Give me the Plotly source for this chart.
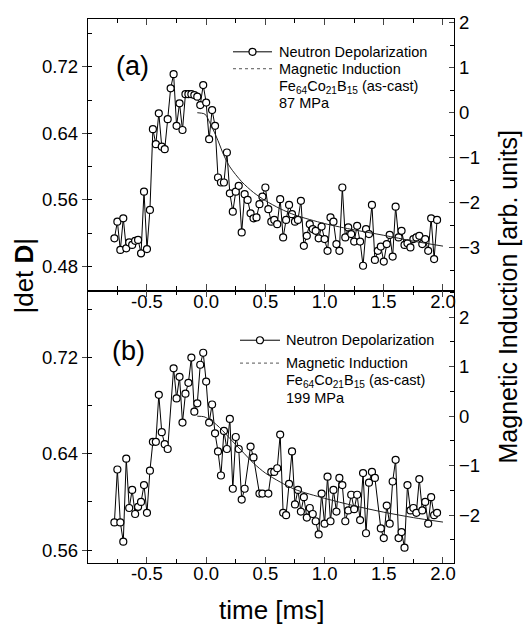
import plotly.graph_objects as go

FONT = "Liberation Sans, Arial, sans-serif"

# panel (a): 87 MPa
time_a = [-0.775, -0.75, -0.725, -0.7, -0.675, -0.65, -0.625, -0.6, -0.575, -0.55,
          -0.525, -0.5, -0.475, -0.45, -0.425, -0.4, -0.375, -0.35, -0.325, -0.3,
          -0.275, -0.25, -0.225, -0.2, -0.175, -0.15, -0.125, -0.1, -0.075, -0.05,
          -0.025, 0.0, 0.025, 0.05, 0.075, 0.1, 0.125, 0.15, 0.175, 0.2,
          0.225, 0.25, 0.275, 0.3, 0.325, 0.35, 0.375, 0.4, 0.425, 0.45,
          0.475, 0.5, 0.525, 0.55, 0.575, 0.6, 0.625, 0.65, 0.675, 0.7,
          0.725, 0.75, 0.775, 0.8, 0.825, 0.85, 0.875, 0.9, 0.925, 0.95,
          0.975, 1.0, 1.025, 1.05, 1.075, 1.1, 1.125, 1.15, 1.175, 1.2,
          1.225, 1.25, 1.275, 1.3, 1.325, 1.35, 1.375, 1.4, 1.425, 1.45,
          1.475, 1.5, 1.525, 1.55, 1.575, 1.6, 1.625, 1.65, 1.675, 1.7,
          1.725, 1.75, 1.775, 1.8, 1.825, 1.85, 1.875, 1.9, 1.925, 1.95]
detd_a = [0.514, 0.534, 0.500, 0.538, 0.502, 0.509, 0.506, 0.511, 0.512, 0.496,
          0.570, 0.501, 0.548, 0.645, 0.627, 0.664, 0.624, 0.621, 0.657, 0.694,
          0.711, 0.649, 0.676, 0.644, 0.687, 0.687, 0.687, 0.686, 0.684, 0.674,
          0.698, 0.677, 0.633, 0.668, 0.649, 0.587, 0.581, 0.581, 0.617, 0.568,
          0.546, 0.570, 0.577, 0.521, 0.567, 0.560, 0.544, 0.538, 0.539, 0.555,
          0.564, 0.575, 0.549, 0.534, 0.536, 0.531, 0.561, 0.515, 0.536, 0.554,
          0.543, 0.534, 0.536, 0.559, 0.505, 0.517, 0.531, 0.525, 0.523, 0.514,
          0.528, 0.513, 0.499, 0.539, 0.534, 0.507, 0.499, 0.575, 0.515, 0.527,
          0.519, 0.510, 0.529, 0.510, 0.481, 0.525, 0.519, 0.554, 0.488, 0.499,
          0.504, 0.486, 0.507, 0.518, 0.492, 0.552, 0.515, 0.523, 0.506, 0.508,
          0.503, 0.513, 0.515, 0.517, 0.507, 0.513, 0.499, 0.538, 0.489, 0.536]
mag_time_a = [-0.075, -0.02, 0.0, 0.03, 0.06, 0.1, 0.15, 0.2, 0.3, 0.4, 0.5,
              0.625, 0.75, 1.0, 1.25, 1.5, 1.75, 2.0]
mag_a = [0.0, -0.02, -0.06, -0.22, -0.38, -0.62, -0.95, -1.2, -1.53, -1.77, -1.95,
         -2.13, -2.27, -2.46, -2.6, -2.72, -2.85, -2.96]

# panel (b): 199 MPa
time_b = [-0.775, -0.75, -0.725, -0.7, -0.675, -0.65, -0.625, -0.6, -0.575, -0.55,
          -0.525, -0.5, -0.475, -0.45, -0.425, -0.4, -0.375, -0.35, -0.325, -0.275,
          -0.25, -0.225, -0.2, -0.175, -0.15, -0.125, -0.1, -0.075, -0.05, -0.025,
          0.0, 0.025, 0.05, 0.075, 0.1, 0.125, 0.15, 0.175, 0.2, 0.225,
          0.25, 0.275, 0.3, 0.325, 0.375, 0.4, 0.45, 0.475, 0.525, 0.55,
          0.575, 0.6, 0.625, 0.65, 0.675, 0.7, 0.725, 0.75, 0.775, 0.8,
          0.825, 0.85, 0.875, 0.9, 0.925, 0.95, 0.975, 1.0, 1.025, 1.05,
          1.075, 1.1, 1.125, 1.15, 1.175, 1.2, 1.225, 1.25, 1.275, 1.3,
          1.325, 1.35, 1.375, 1.4, 1.425, 1.475, 1.5, 1.525, 1.55, 1.575,
          1.6, 1.625, 1.65, 1.675, 1.7, 1.725, 1.75, 1.775, 1.8, 1.825,
          1.85, 1.875, 1.9, 1.925, 1.95]
detd_b = [0.583, 0.627, 0.583, 0.567, 0.636, 0.595, 0.610, 0.590, 0.596, 0.600,
          0.614, 0.591, 0.626, 0.650, 0.650, 0.689, 0.658, 0.648, 0.644, 0.711,
          0.686, 0.704, 0.666, 0.690, 0.699, 0.720, 0.675, 0.682, 0.714, 0.724,
          0.700, 0.666, 0.681, 0.657, 0.642, 0.622, 0.659, 0.644, 0.669, 0.611,
          0.654, 0.644, 0.602, 0.611, 0.646, 0.637, 0.607, 0.607, 0.607, 0.625,
          0.625, 0.628, 0.656, 0.591, 0.589, 0.615, 0.642, 0.598, 0.610, 0.592,
          0.604, 0.587, 0.595, 0.590, 0.584, 0.573, 0.607, 0.582, 0.621, 0.584,
          0.610, 0.592, 0.620, 0.614, 0.584, 0.593, 0.606, 0.594, 0.606, 0.585,
          0.624, 0.574, 0.616, 0.625, 0.620, 0.578, 0.570, 0.597, 0.582, 0.617,
          0.635, 0.570, 0.575, 0.562, 0.614, 0.593, 0.595, 0.591, 0.619, 0.593,
          0.600, 0.582, 0.604, 0.589, 0.591]
mag_time_b = [-0.075, -0.02, 0.0, 0.05, 0.1, 0.15, 0.2, 0.3, 0.4, 0.5,
              0.625, 0.75, 1.0, 1.25, 1.5, 1.75, 2.0]
mag_b = [0.0, -0.01, -0.03, -0.1, -0.2, -0.32, -0.45, -0.7, -0.95, -1.15,
         -1.33, -1.48, -1.66, -1.81, -1.94, -2.05, -2.14]

# ticks
x_ticks = [-0.5, 0.0, 0.5, 1.0, 1.5, 2.0]
x_ticktext = ["-0.5", "0.0", "0.5", "1.0", "1.5", "2.0"]
d_ticks_a = [0.48, 0.56, 0.64, 0.72]
d_ticks_b = [0.56, 0.64, 0.72]
m_ticks_a = [-3, -2, -1, 0, 1, 2]
m_ticks_b = [-2, -1, 0, 1, 2]

# pixel layout of the plot box
W, H = 526, 628
L, R, T, B = 88, 454, 16, 563
PW, PH = R - L, B - T


def px(x):
    return (x - L) / PW


def py(y):
    return (B - y) / PH


fig = go.Figure()

point_style = dict(mode="lines+markers", line=dict(color="black", width=1),
                   marker=dict(symbol="circle", size=7, color="white",
                               line=dict(color="black", width=1.2)),
                   showlegend=False)
mag_style = dict(mode="lines", line=dict(color="#222", width=1, shape="spline", smoothing=0.8),
                 showlegend=False)

fig.add_trace(go.Scatter(x=mag_time_a, y=mag_a, xaxis="x", yaxis="y2", **mag_style))
fig.add_trace(go.Scatter(x=time_a, y=detd_a, xaxis="x", yaxis="y", **point_style))
fig.add_trace(go.Scatter(x=mag_time_b, y=mag_b, xaxis="x2", yaxis="y4", **mag_style))
fig.add_trace(go.Scatter(x=time_b, y=detd_b, xaxis="x2", yaxis="y3", **point_style))

split = (B - 289) / PH
tickfont = dict(family=FONT, size=18.5, color="black")

xcommon = dict(range=[-0.998, 2.093], tickvals=x_ticks, ticktext=x_ticktext,
               ticks="inside", ticklen=6, tickwidth=1.2, mirror="ticks",
               showline=True, linecolor="black", linewidth=1.4, showgrid=False,
               zeroline=False, tickfont=tickfont, ticklabelstandoff=-6,
               minor=dict(dtick=0.25, tick0=0, ticks="inside", ticklen=4, tickwidth=1.1,
                          tickcolor="black", showgrid=False))
ycommon = dict(ticks="outside", ticklen=5, tickwidth=1.2, showline=True, linecolor="black",
               linewidth=1.4, showgrid=False, zeroline=False, tickfont=tickfont,
               minor=dict(ticks="inside", ticklen=4, tickwidth=1.1, tickcolor="black",
                          showgrid=False))

fig.update_layout(
    width=W, height=H,
    margin=dict(l=L, r=W - R, t=T, b=H - B),
    paper_bgcolor="white", plot_bgcolor="white",
    font=dict(family=FONT, color="black"),
    showlegend=False,
    xaxis=dict(domain=[0, 1], anchor="y", **xcommon),
    xaxis2=dict(domain=[0, 1], anchor="y3", **xcommon),
    yaxis=dict(domain=[split, 1], anchor="x", range=[0.4513, 0.7773], tickvals=d_ticks_a,
               tickformat=".2f", **{**ycommon, "minor": {**ycommon["minor"], "dtick": 0.04, "tick0": 0}}),
    yaxis2=dict(overlaying="y", side="right", anchor="x", range=[-3.945, 2.08], tickvals=m_ticks_a,
                **{**ycommon, "ticks": "inside",
                   "minor": {**ycommon["minor"], "dtick": 0.5, "tick0": 0}}),
    yaxis3=dict(domain=[0, split], anchor="x2", range=[0.5493, 0.7757], tickvals=d_ticks_b,
                tickformat=".2f", **{**ycommon, "minor": {**ycommon["minor"], "dtick": 0.04, "tick0": 0}}),
    yaxis4=dict(overlaying="y3", side="right", anchor="x2", range=[-2.967, 2.54], tickvals=m_ticks_b,
                **{**ycommon, "ticks": "inside",
                   "minor": {**ycommon["minor"], "dtick": 0.5, "tick0": 0}}),
)

ann = []
shapes = []

# panel letters
ann.append(dict(x=px(132), y=py(63), text="(a)", font=dict(size=27)))
ann.append(dict(x=px(128), y=py(350), text="(b)", font=dict(size=27)))

# hand-made legends
legends = [
    dict(x0=233, x1=272, tx=277, rows=[49, 66, 84, 100], mpa="87 MPa"),
    dict(x0=240, x1=280, tx=284, rows=[339, 362, 380, 397], mpa="199 MPa"),
]
for lg in legends:
    r1, r2, r3, r4 = lg["rows"]
    shapes.append(dict(type="line", xref="paper", yref="paper", x0=px(lg["x0"]), x1=px(lg["x1"]),
                       y0=py(r1), y1=py(r1), line=dict(color="black", width=1)))
    shapes.append(dict(type="circle", xref="paper", yref="paper", xsizemode="pixel", ysizemode="pixel",
                       xanchor=px((lg["x0"] + lg["x1"]) / 2), yanchor=py(r1),
                       x0=-3.5, x1=3.5, y0=-3.5, y1=3.5, fillcolor="white",
                       line=dict(color="black", width=1.2)))
    shapes.append(dict(type="line", xref="paper", yref="paper", x0=px(lg["x0"]), x1=px(lg["x1"]),
                       y0=py(r2), y1=py(r2), line=dict(color="#555", width=1, dash="dot")))
    for row, txt in zip(lg["rows"], ["Neutron Depolarization", "Magnetic Induction",
                                      "Fe<sub>64</sub>Co<sub>21</sub>B<sub>15</sub> (as-cast)",
                                      lg["mpa"]]):
        ann.append(dict(x=px(lg["tx"]), y=py(row), text=txt, xanchor="left",
                        font=dict(size=14.5)))

# axis titles
ann.append(dict(x=px(24), y=py(274), text="|det <b>D</b>|", textangle=-90, font=dict(size=26)))
ann.append(dict(x=px(508), y=py(295), text="Magnetic Induction [arb. units]", textangle=-90,
                font=dict(size=25)))
ann.append(dict(x=px(271), y=py(610), text="time [ms]", font=dict(size=26)))

for a in ann:
    a.setdefault("xanchor", "center")
    a.update(xref="paper", yref="paper", yanchor="middle", showarrow=False)
    a["font"] = dict(family=FONT, color="black", **a["font"])

fig.update_layout(annotations=ann, shapes=shapes)

fig.write_html("out.html", config={"displayModeBar": False},
               post_script="document.body.style.margin='0';")
